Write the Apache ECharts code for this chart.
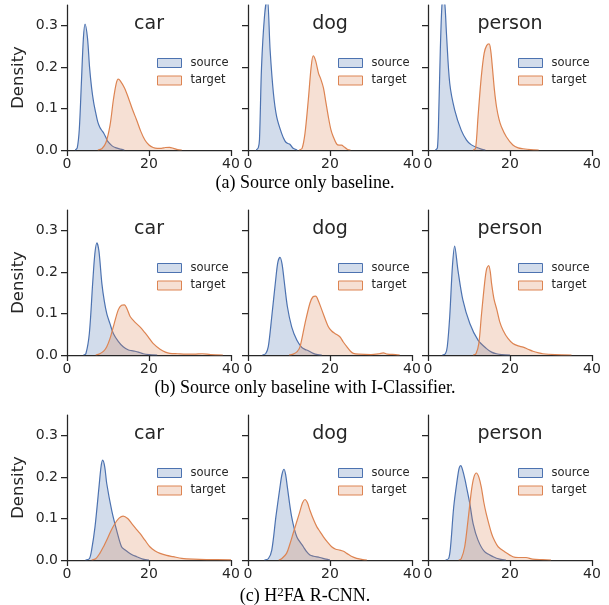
<!DOCTYPE html>
<html>
<head>
<meta charset="utf-8">
<script src="https://cdn.jsdelivr.net/npm/echarts@6/dist/echarts.min.js"></script>
<style>
  html, body { margin: 0; padding: 0; background: #fff; }
  #chart { width: 609px; height: 605px; }
</style>
</head>
<body>
<div id="chart"></div>
<script>
  const categories = ["car", "dog", "person"];
  const captions = [
    "(a) Source only baseline.",
    "(b) Source only baseline with I-Classifier.",
    "(c) H{sup|2}FA R-CNN."
  ];
  const xTicks = [0, 20, 40];
  const yTicks = [0, 0.1, 0.2, 0.3];

  // density curves as [x, density]
  // (a) source only baseline
  const aCarSource = [[2, 0], [2.5, 0.005], [3, 0.05], [3.5, 0.16], [4, 0.27], [4.4, 0.304], [5, 0.27], [5.5, 0.2], [6, 0.15], [6.5, 0.115], [7, 0.09], [7.5, 0.068], [8, 0.055], [8.5, 0.047], [9, 0.04], [9.5, 0.03], [10, 0.02], [11, 0.01], [12, 0.005], [13, 0.002], [14, 0]];
  const aCarTarget = [[7.5, 0], [8.5, 0.003], [9.5, 0.018], [10.5, 0.06], [11.3, 0.12], [12, 0.16], [12.5, 0.171], [13, 0.167], [14, 0.15], [15, 0.125], [16, 0.097], [17, 0.072], [18, 0.045], [19, 0.024], [20, 0.012], [21, 0.006], [22, 0.004], [23, 0.004], [24, 0.006], [25, 0.0065], [26, 0.004], [27, 0.001], [28, 0]];
  const aDogSource = [[2, 0], [2.5, 0.005], [2.8, 0.025], [3.3, 0.2], [4, 0.32], [4.7, 0.37], [5.4, 0.24], [6.2, 0.137], [7, 0.08], [8.2, 0.04], [9, 0.022], [9.6, 0.016], [10.2, 0.014], [11, 0.004], [12, 0]];
  const aDogTarget = [[12.5, 0], [13.2, 0.004], [13.9, 0.04], [14.7, 0.12], [15.4, 0.2], [15.9, 0.227], [16.5, 0.215], [17.2, 0.185], [17.8, 0.17], [18.4, 0.15], [19, 0.115], [19.6, 0.08], [20.2, 0.05], [20.8, 0.032], [21.6, 0.015], [22.2, 0.012], [22.8, 0.012], [23.5, 0.007], [24.2, 0.002], [25, 0]];
  const aPersonSource = [[1.8, 0], [2.3, 0.005], [2.6, 0.08], [3, 0.24], [3.4, 0.35], [3.8, 0.38], [4.2, 0.34], [4.5, 0.282], [5.3, 0.161], [6.5, 0.097], [8.1, 0.048], [9.4, 0.024], [10.5, 0.013], [11.8, 0.0065], [13, 0.002], [14, 0]];
  const aPersonTarget = [[11, 0], [11.6, 0.004], [12.2, 0.08], [13, 0.177], [13.7, 0.234], [14.3, 0.252], [14.9, 0.256], [15.3, 0.24], [15.7, 0.2], [16.2, 0.145], [16.7, 0.105], [17.3, 0.075], [17.9, 0.056], [19.1, 0.032], [20.7, 0.012], [22, 0.005], [23.2, 0.003], [25, 0.001], [27, 0]];

  // (b) source only baseline with I-Classifier
  const bCarSource = [[4, 0], [4.6, 0.003], [5.45, 0.052], [6.26, 0.173], [6.8, 0.245], [7.3, 0.271], [7.8, 0.25], [8.5, 0.173], [9.1, 0.13], [9.7, 0.1], [10.5, 0.075], [11.3, 0.052], [12.5, 0.033], [13.7, 0.02], [15, 0.012], [15.8, 0.0105], [16.6, 0.009], [17.4, 0.007], [18.6, 0.003], [20, 0.001], [22, 0]];
  const bCarTarget = [[7, 0], [8, 0.003], [9, 0.01], [9.7, 0.02], [10.5, 0.04], [11.3, 0.068], [12.5, 0.109], [13.3, 0.12], [14, 0.121], [14.7, 0.11], [15.4, 0.093], [16.5, 0.08], [17.8, 0.068], [19, 0.054], [19.8, 0.044], [21, 0.028], [22.7, 0.014], [24, 0.007], [25.1, 0.004], [27, 0.003], [29, 0.002], [31, 0.002], [33, 0.003], [35, 0.001], [38, 0]];
  const bDogSource = [[3.5, 0], [4.3, 0.003], [4.95, 0.02], [5.8, 0.093], [6.83, 0.189], [7.3, 0.225], [7.8, 0.236], [8.3, 0.22], [8.8, 0.181], [9.6, 0.117], [10.65, 0.068], [11.9, 0.036], [13.1, 0.0185], [14, 0.013], [14.6, 0.011], [15.9, 0.004], [17, 0.001], [18, 0]];
  const bDogTarget = [[10, 0], [11, 0.002], [12, 0.008], [12.7, 0.02], [13.9, 0.076], [15.1, 0.125], [15.8, 0.14], [16.5, 0.142], [17.2, 0.13], [18, 0.109], [19.6, 0.068], [20.4, 0.058], [21.2, 0.052], [22.4, 0.044], [23.2, 0.032], [24.1, 0.02], [25, 0.009], [25.7, 0.004], [27, 0.002], [30, 0.001], [32, 0.003], [33, 0.005], [34, 0.002], [36, 0.001], [37, 0]];
  const bPersonSource = [[3.5, 0], [4.24, 0.003], [4.7, 0.02], [5.3, 0.093], [5.95, 0.213], [6.5, 0.263], [7.3, 0.205], [8.5, 0.133], [10.2, 0.076], [12.2, 0.036], [14.2, 0.016], [15.5, 0.007], [16.7, 0.003], [18, 0.001], [20, 0]];
  const bPersonTarget = [[11, 0], [11.7, 0.003], [12.4, 0.028], [13, 0.093], [13.8, 0.173], [14.3, 0.208], [14.8, 0.216], [15.2, 0.2], [15.5, 0.173], [16.1, 0.135], [16.8, 0.109], [17.5, 0.08], [18.3, 0.06], [19.5, 0.04], [20.7, 0.028], [22, 0.022], [23.2, 0.019], [24.4, 0.014], [25.6, 0.009], [27, 0.005], [28, 0.003], [31, 0.001], [35, 0]];

  // (c) H2FA R-CNN
  const cCarSource = [[4.5, 0], [5.45, 0.003], [6, 0.024], [6.83, 0.08], [7.8, 0.176], [8.3, 0.225], [8.7, 0.241], [9.2, 0.225], [9.7, 0.184], [10.9, 0.12], [12.1, 0.072], [13.3, 0.032], [14.2, 0.024], [15, 0.018], [16, 0.012], [17, 0.008], [18.5, 0.002], [20, 0]];
  const cCarTarget = [[6, 0], [7, 0.003], [8, 0.016], [9, 0.034], [9.7, 0.048], [10.7, 0.07], [11.7, 0.088], [12.7, 0.101], [13.7, 0.106], [14.8, 0.1], [15.8, 0.088], [16.8, 0.076], [17.8, 0.064], [19, 0.048], [20.2, 0.032], [21.5, 0.022], [22.7, 0.016], [24.3, 0.011], [25.9, 0.008], [28, 0.004], [30.8, 0.002], [34, 0.001], [40, 0.0005]];
  const cDogSource = [[4, 0], [4.95, 0.003], [5.8, 0.024], [6.8, 0.104], [7.8, 0.176], [8.3, 0.207], [8.8, 0.219], [9.2, 0.205], [9.6, 0.176], [10.65, 0.104], [11.9, 0.056], [13.5, 0.032], [14.3, 0.02], [15.1, 0.012], [16, 0.009], [17.5, 0.006], [19, 0.002], [20, 0]];
  const cDogTarget = [[7.5, 0], [8.2, 0.003], [9.4, 0.016], [10.2, 0.038], [11, 0.064], [12.5, 0.112], [13.3, 0.138], [13.9, 0.146], [14.5, 0.138], [15.1, 0.12], [16, 0.097], [16.8, 0.08], [17.6, 0.068], [18.4, 0.056], [19.4, 0.043], [20.4, 0.032], [21.4, 0.026], [22.4, 0.024], [23.3, 0.021], [24.1, 0.016], [25.2, 0.009], [26.5, 0.004], [28, 0.001], [29, 0]];
  const cPersonSource = [[4.3, 0], [5.05, 0.004], [5.5, 0.032], [6.27, 0.128], [7.1, 0.192], [7.6, 0.222], [8, 0.228], [8.5, 0.215], [9, 0.195], [9.4, 0.176], [10.2, 0.136], [11, 0.088], [12.2, 0.048], [13.8, 0.02], [15.9, 0.008], [17.5, 0.002], [19, 0]];
  const cPersonTarget = [[7.5, 0], [8.1, 0.003], [8.95, 0.032], [9.76, 0.096], [10.6, 0.168], [11.2, 0.2], [11.8, 0.21], [12.4, 0.2], [13, 0.176], [13.6, 0.14], [14.2, 0.112], [15.5, 0.064], [16.3, 0.045], [17.1, 0.032], [18.7, 0.02], [20.7, 0.008], [22, 0.006], [23.9, 0.006], [25.5, 0.002], [28, 0.001], [30, 0]];

  const panelData = [
    [aCarSource, aCarTarget, aDogSource, aDogTarget, aPersonSource, aPersonTarget],
    [bCarSource, bCarTarget, bDogSource, bDogTarget, bPersonSource, bPersonTarget],
    [cCarSource, cCarTarget, cDogSource, cDogTarget, cPersonSource, cPersonTarget]
  ];

  const blue = "#4c72b0";
  const orange = "#dd8452";
  const ink = "#262626";
  const sans = "DejaVu Sans";
  const serif = "Liberation Serif";

  const colLeft = [67, 248, 428];
  const rowTop = [5, 210, 415];
  const captionTop = [173, 378, 586];
  const plotW = 164;
  const plotH = 145;

  const grids = [];
  const xAxes = [];
  const yAxes = [];
  const series = [];
  const titles = [];
  const legends = [];

  rowTop.forEach((top, r) => {
    colLeft.forEach((left, c) => {
      const i = grids.length;
      grids.push({ left: left, top: top, width: plotW, height: plotH });

      xAxes.push({
        type: "value",
        gridIndex: i,
        min: 0,
        max: 40,
        interval: 20,
        splitLine: { show: false },
        axisLine: { lineStyle: { color: ink, width: 1.25 } },
        axisTick: { length: 6, lineStyle: { color: ink, width: 1.25 }, customValues: xTicks },
        axisLabel: { margin: 7, color: ink, fontSize: 14, fontFamily: sans, customValues: xTicks }
      });

      yAxes.push({
        type: "value",
        gridIndex: i,
        min: 0,
        max: 0.35,
        name: c === 0 ? "Density" : "",
        nameLocation: "middle",
        nameGap: 40,
        nameTextStyle: { color: ink, fontSize: 16.5, fontFamily: sans },
        splitLine: { show: false },
        axisLine: { show: true, lineStyle: { color: ink, width: 1.25 } },
        axisTick: { show: true, length: 6, lineStyle: { color: ink, width: 1.25 }, customValues: yTicks },
        axisLabel: {
          show: c === 0,
          margin: 9,
          color: ink,
          fontSize: 14,
          fontFamily: sans,
          customValues: yTicks,
          formatter: (v) => v.toFixed(1)
        }
      });

      const src = panelData[r][c * 2];
      const tgt = panelData[r][c * 2 + 1];
      [[src, "source", blue], [tgt, "target", orange]].forEach(([data, name, color], k) => {
        series.push({
          type: "line",
          name: name,
          xAxisIndex: i,
          yAxisIndex: i,
          data: data,
          smooth: 0.3,
          symbol: "none",
          z: 2 + k,
          lineStyle: { color: color, width: 1.2 },
          itemStyle: { color: color },
          areaStyle: { color: color, opacity: 0.25 }
        });
      });

      titles.push({
        text: categories[c],
        left: left + plotW / 2,
        top: top + 10,
        textAlign: "center",
        padding: 0,
        textStyle: { color: ink, fontSize: 19, fontWeight: "normal", fontFamily: sans }
      });

      legends.push({
        left: left + 90,
        top: top + 52,
        orient: "vertical",
        padding: 0,
        icon: "rect",
        itemWidth: 24,
        itemHeight: 9,
        itemGap: 5.5,
        selectedMode: false,
        textStyle: { color: ink, fontSize: 11.5, fontFamily: sans, padding: [0, 0, 0, 4] },
        data: [
          { name: "source", itemStyle: { color: "rgba(76,114,176,0.25)", borderColor: blue, borderWidth: 1 } },
          { name: "target", itemStyle: { color: "rgba(221,132,82,0.25)", borderColor: orange, borderWidth: 1 } }
        ]
      });
    });

    titles.push({
      text: captions[r],
      left: 305,
      top: captionTop[r],
      textAlign: "center",
      padding: 0,
      textStyle: {
        color: "#000",
        fontSize: 18,
        fontWeight: "normal",
        fontFamily: serif,
        lineHeight: 20,
        rich: {
          sup: { fontSize: 13, fontFamily: serif, color: "#000", verticalAlign: "top", lineHeight: 11 }
        }
      }
    });
  });

  const chart = echarts.init(document.getElementById("chart"), null, { renderer: "canvas" });
  chart.setOption({
    animation: false,
    backgroundColor: "#fff",
    title: titles,
    legend: legends,
    grid: grids,
    xAxis: xAxes,
    yAxis: yAxes,
    series: series
  });
</script>
</body>
</html>
